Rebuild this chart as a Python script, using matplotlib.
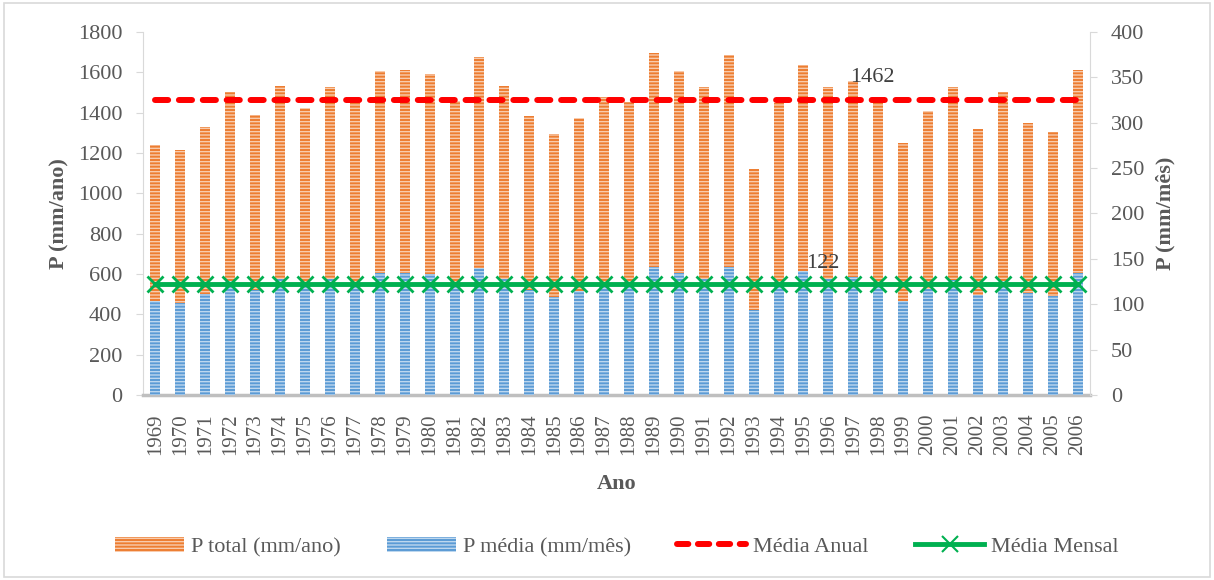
import matplotlib
matplotlib.use("Agg")
import matplotlib.pyplot as plt
from matplotlib.patches import Patch, Rectangle
from matplotlib.lines import Line2D
import numpy as np

plt.rcParams["font.family"] = ["Liberation Serif", "DejaVu Serif"]
plt.rcParams["hatch.linewidth"] = 1.0

# Annual precipitation series
anos = [str(a) for a in range(1969, 2007)]
p_total = [1240, 1213, 1329, 1501, 1388, 1534, 1422, 1527, 1458, 1607,
           1610, 1593, 1460, 1675, 1534, 1385, 1293, 1372, 1479, 1454,
           1696, 1607, 1527, 1688, 1121, 1450, 1638, 1527, 1559, 1468,
           1248, 1408, 1526, 1317, 1502, 1347, 1303, 1612]
p_media = [103.3, 101.1, 110.8, 125.1, 115.7, 127.8, 118.5, 127.3, 121.5, 133.9,
           134.2, 132.8, 121.7, 139.6, 127.8, 115.4, 107.8, 114.3, 123.3, 121.2,
           141.3, 133.9, 127.3, 140.7, 93.4, 120.8, 136.5, 127.3, 129.9, 122.3,
           104.0, 117.3, 127.2, 109.8, 125.2, 112.3, 108.6, 134.3]
media_anual = 1462
media_mensal = 122

TXT = "#595959"
ORANGE = "#ED7D31"
BLUE = "#5B9BD5"
RED = "#FF0000"
GREEN = "#00B050"
FS = 16

fig = plt.figure(figsize=(12.14, 5.8), dpi=100)
fig.patches.append(Rectangle((0.003, 0.005), 0.994, 0.99, transform=fig.transFigure,
                             fill=False, edgecolor="#D9D9D9", lw=1.2))

ax = fig.add_axes([0.1178, 0.319, 0.7801, 0.6259])
x = np.arange(len(anos))

ax.bar(x, p_total, width=0.4, color=ORANGE, edgecolor="#F8CBAD",
       hatch="-----", linewidth=0, zorder=1)
ax.plot(x, [media_anual] * len(x), color=RED, lw=4.3, linestyle=(0, (2.2, 1.8)),
        dash_capstyle="round", zorder=3)
ax.annotate(str(media_anual), (29, media_anual), xytext=(-4, 16),
            textcoords="offset points", ha="center", va="center",
            fontsize=FS, color="#404040")

ax2 = ax.twinx()
ax2.bar(x, p_media, width=0.4, color=BLUE, edgecolor="#BDD7EE",
        hatch="-----", linewidth=0, zorder=1)
ax2.plot(x, [media_mensal] * len(x), color=GREEN, lw=3.5, marker="x",
         markersize=11, markeredgewidth=2, zorder=3)
ax2.annotate(str(media_mensal), (27, media_mensal), xytext=(-4, 15),
             textcoords="offset points", ha="center", va="center",
             fontsize=FS, color="#404040")

ax.set_xlim(-0.5, len(anos) - 0.5)
ax.set_ylim(0, 1800)
ax2.set_ylim(0, 400)
ax.set_yticks(range(0, 1801, 200))
ax2.set_yticks(range(0, 401, 50))
ax.set_xticks(x)
ax.set_xticklabels(anos, rotation=90, fontsize=15, color=TXT)

ax.tick_params(axis="x", length=0, pad=13)
ax.tick_params(axis="y", labelsize=FS, labelcolor=TXT, color="#D9D9D9",
               length=5, pad=10)
ax2.tick_params(axis="y", labelsize=FS, labelcolor=TXT, color="#D9D9D9",
                length=5, pad=10)

for a in (ax, ax2):
    a.spines["top"].set_visible(False)
ax.spines["right"].set_visible(False)
ax2.spines["left"].set_visible(False)
ax2.spines["bottom"].set_visible(False)
ax.spines["left"].set_color("#D9D9D9")
ax2.spines["right"].set_color("#D9D9D9")
ax.spines["bottom"].set_color("#BFBFBF")
ax.spines["bottom"].set_linewidth(2.5)

ax.set_ylabel("P (mm/ano)", fontsize=FS, fontweight="bold", color=TXT, labelpad=6)
ax2.set_ylabel("P (mm/mês)", fontsize=FS, fontweight="bold", color=TXT, labelpad=8)
ax.set_xlabel("Ano", fontsize=FS, fontweight="bold", color=TXT, labelpad=14)

handles = [
    Patch(facecolor=ORANGE, edgecolor="#F8CBAD", hatch="-----", linewidth=0),
    Patch(facecolor=BLUE, edgecolor="#BDD7EE", hatch="-----", linewidth=0),
    Line2D([], [], color=RED, lw=4.3, linestyle=(0, (1.9, 1.6)), dash_capstyle="round"),
    Line2D([], [], color=GREEN, lw=3.5, marker="x", markersize=11, markeredgewidth=1.5),
]
labels = ["P total (mm/ano)", "P média (mm/mês)", "Média Anual", "Média Mensal"]
leg = fig.legend(handles, labels, loc="center", bbox_to_anchor=(0.508, 0.057),
                 ncol=4, frameon=False, fontsize=FS, handlelength=3.1,
                 handletextpad=0.3, columnspacing=2.1, markerscale=1)
for t in leg.get_texts():
    t.set_color(TXT)

fig.savefig("out.png", dpi=100)
